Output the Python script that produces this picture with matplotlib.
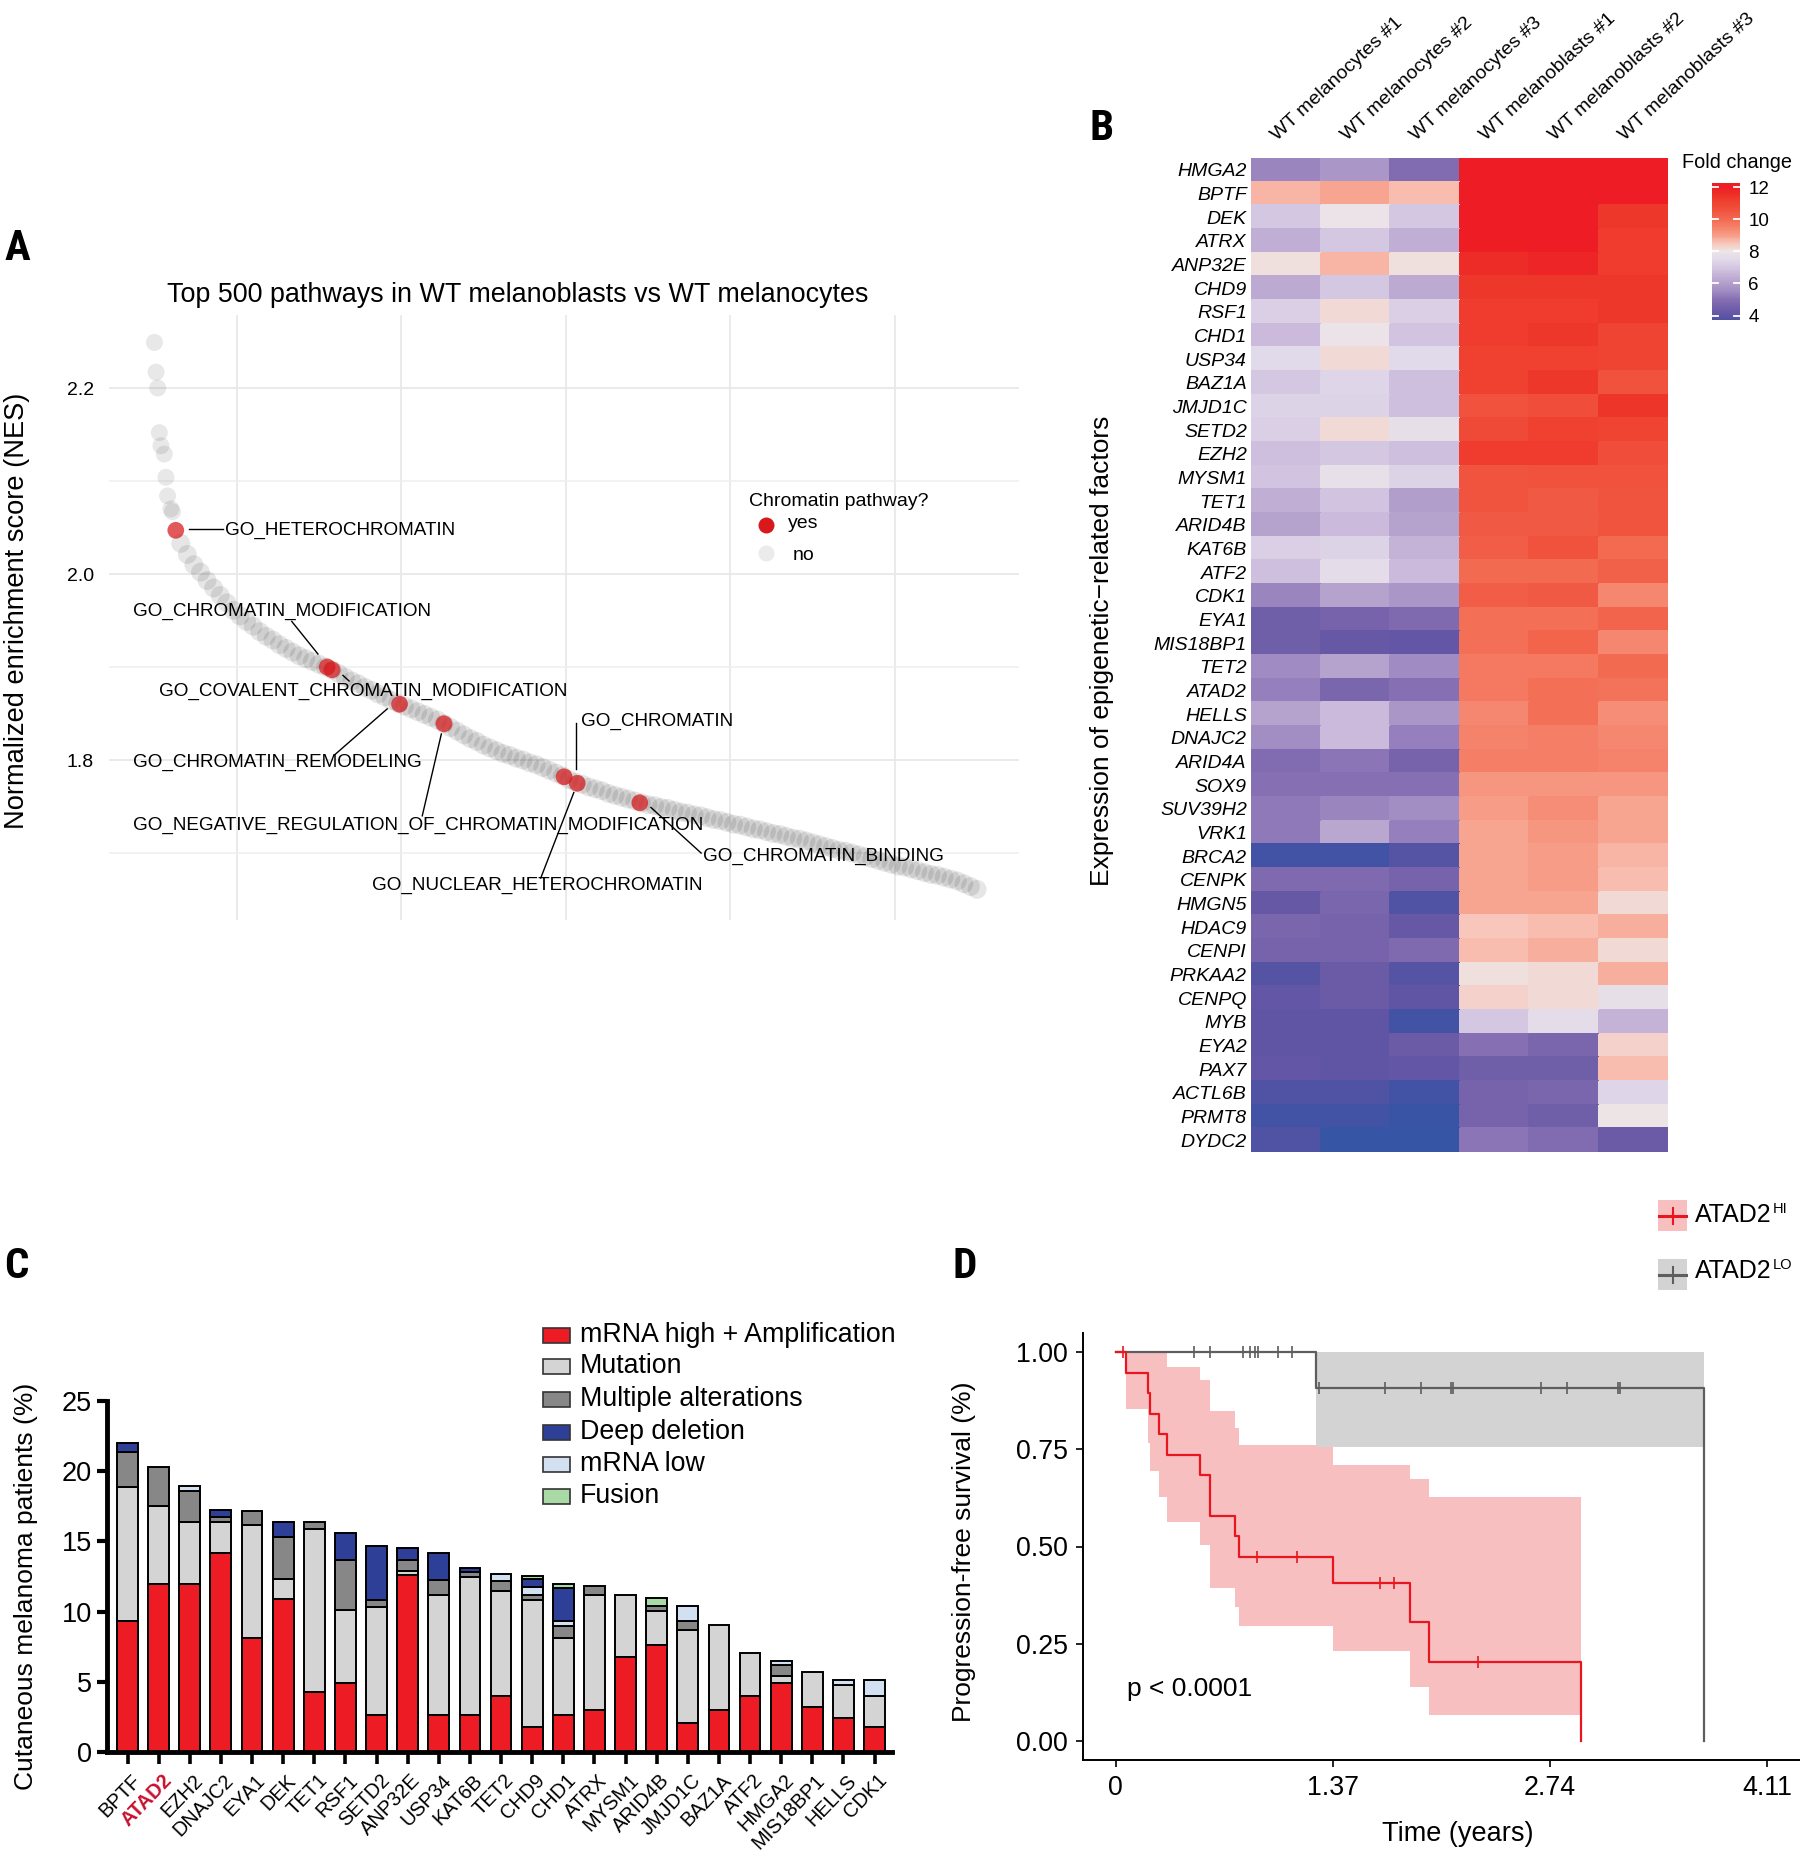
import numpy as np
import matplotlib
matplotlib.use('Agg')
import matplotlib.pyplot as plt
from matplotlib import font_manager as fm
from matplotlib.colors import LinearSegmentedColormap, Normalize
from matplotlib.patches import Rectangle
from matplotlib.lines import Line2D
from matplotlib.transforms import ScaledTranslation
import matplotlib.cm as cm

# ---------------- DATA ----------------
# Panel A: top-500 pathway NES (rank order)
top_rank = [0, 1, 2, 3, 4, 6, 7, 8, 10, 11]
top_nes = [2.249, 2.217, 2.200, 2.152, 2.138, 2.129, 2.104, 2.084, 2.070, 2.067]
band_rank = list(range(16, 501, 4))
band_nes = [2.033, 2.021, 2.010, 2.002, 1.993, 1.985, 1.977, 1.969, 1.961, 1.955,
            1.949, 1.944, 1.938, 1.933, 1.929, 1.924, 1.920, 1.916, 1.912, 1.909,
            1.906, 1.903, 1.900, 1.897, 1.893, 1.889, 1.885, 1.882, 1.878, 1.875,
            1.871, 1.868, 1.864, 1.861, 1.858, 1.855, 1.852, 1.849, 1.846, 1.843,
            1.839, 1.835, 1.831, 1.827, 1.823, 1.820, 1.816, 1.813, 1.810, 1.807,
            1.805, 1.802, 1.800, 1.797, 1.795, 1.792, 1.789, 1.786, 1.783, 1.779,
            1.776, 1.774, 1.771, 1.769, 1.767, 1.764, 1.762, 1.760, 1.758, 1.756,
            1.754, 1.752, 1.751, 1.749, 1.748, 1.746, 1.744, 1.743, 1.741, 1.740,
            1.738, 1.736, 1.735, 1.733, 1.731, 1.730, 1.728, 1.726, 1.725, 1.723,
            1.721, 1.720, 1.718, 1.716, 1.715, 1.713, 1.711, 1.709, 1.707, 1.705,
            1.703, 1.702, 1.700, 1.698, 1.696, 1.694, 1.692, 1.690, 1.688, 1.686,
            1.685, 1.683, 1.681, 1.679, 1.677, 1.676, 1.674, 1.672, 1.670, 1.667,
            1.664, 1.661]
chrom_names = ['GO_HETEROCHROMATIN', 'GO_CHROMATIN_MODIFICATION',
               'GO_COVALENT_CHROMATIN_MODIFICATION', 'GO_CHROMATIN_REMODELING',
               'GO_NEGATIVE_REGULATION_OF_CHROMATIN_MODIFICATION', 'GO_CHROMATIN',
               'GO_NUCLEAR_HETEROCHROMATIN', 'GO_CHROMATIN_BINDING']
chrom_rank = [13, 105, 108, 149, 176, 249, 257, 295]
chrom_nes = [2.047, 1.900, 1.897, 1.860, 1.839, 1.782, 1.775, 1.754]

# Panel B: heatmap
samples = ['WT melanocytes #1', 'WT melanocytes #2', 'WT melanocytes #3',
           'WT melanoblasts #1', 'WT melanoblasts #2', 'WT melanoblasts #3']
genes_b = ['HMGA2', 'BPTF', 'DEK', 'ATRX', 'ANP32E', 'CHD9', 'RSF1', 'CHD1', 'USP34',
           'BAZ1A', 'JMJD1C', 'SETD2', 'EZH2', 'MYSM1', 'TET1', 'ARID4B', 'KAT6B',
           'ATF2', 'CDK1', 'EYA1', 'MIS18BP1', 'TET2', 'ATAD2', 'HELLS', 'DNAJC2',
           'ARID4A', 'SOX9', 'SUV39H2', 'VRK1', 'BRCA2', 'CENPK', 'HMGN5', 'HDAC9',
           'CENPI', 'PRKAA2', 'CENPQ', 'MYB', 'EYA2', 'PAX7', 'ACTL6B', 'PRMT8', 'DYDC2']
fold_change = [
    [5.4, 5.8, 4.9, 12.3, 12.3, 12.3],
    [8.7, 8.9, 8.6, 12.2, 12.2, 12.2],
    [7.0, 7.9, 7.0, 12.2, 12.2, 11.3],
    [6.4, 7.0, 6.4, 12.1, 12.2, 11.2],
    [8.1, 8.7, 8.1, 11.6, 11.8, 11.2],
    [6.3, 7.0, 6.3, 11.3, 11.3, 11.3],
    [7.2, 8.2, 7.2, 11.2, 11.2, 11.3],
    [6.7, 7.9, 6.9, 11.2, 11.3, 11.0],
    [7.5, 8.2, 7.5, 11.1, 11.1, 11.0],
    [7.0, 7.4, 6.8, 11.1, 11.3, 10.6],
    [7.3, 7.3, 6.8, 10.6, 10.7, 11.4],
    [7.2, 8.2, 7.7, 10.8, 11.1, 11.0],
    [6.8, 7.0, 6.8, 11.2, 11.2, 10.7],
    [6.9, 7.8, 7.3, 10.5, 10.6, 10.6],
    [6.4, 6.9, 6.0, 10.5, 10.4, 10.5],
    [6.1, 6.7, 6.1, 10.4, 10.4, 10.5],
    [7.2, 7.3, 6.5, 10.3, 10.6, 10.0],
    [6.8, 7.6, 6.7, 10.0, 10.0, 10.2],
    [5.4, 6.1, 5.8, 10.3, 10.4, 9.4],
    [4.4, 4.6, 4.8, 9.9, 9.9, 10.1],
    [4.4, 4.2, 4.1, 9.9, 10.1, 9.4],
    [5.5, 6.1, 5.5, 9.7, 9.7, 10.0],
    [5.3, 4.7, 5.0, 9.7, 9.9, 9.8],
    [6.1, 6.7, 5.8, 9.4, 9.9, 9.3],
    [5.6, 6.7, 5.3, 9.5, 9.6, 9.4],
    [4.9, 5.1, 4.6, 9.6, 9.6, 9.5],
    [5.0, 5.0, 5.0, 9.1, 9.1, 9.1],
    [5.2, 5.4, 5.6, 9.0, 9.3, 8.9],
    [5.2, 6.2, 5.3, 8.9, 9.1, 8.9],
    [3.4, 3.4, 3.8, 8.9, 9.0, 8.7],
    [4.8, 4.8, 4.6, 8.9, 9.0, 8.6],
    [4.2, 4.7, 3.7, 8.9, 8.9, 8.2],
    [4.7, 4.6, 4.2, 8.5, 8.6, 8.8],
    [4.6, 4.6, 4.8, 8.6, 8.8, 8.2],
    [3.8, 4.3, 3.8, 8.1, 8.2, 8.8],
    [4.1, 4.3, 4.0, 8.3, 8.2, 7.7],
    [4.0, 4.0, 3.4, 7.0, 7.6, 6.5],
    [4.0, 4.0, 4.3, 5.0, 4.7, 8.3],
    [4.1, 4.0, 4.1, 4.4, 4.4, 8.6],
    [3.7, 3.7, 3.4, 4.6, 4.7, 7.4],
    [3.4, 3.4, 3.1, 4.6, 4.4, 8.0],
    [3.7, 3.0, 3.0, 5.1, 4.9, 4.3],
]
cbar_ticks = [4, 6, 8, 10, 12]

# Panel C: alteration frequencies (%)
genes_c = ['BPTF', 'ATAD2', 'EZH2', 'DNAJC2', 'EYA1', 'DEK', 'TET1', 'RSF1', 'SETD2',
           'ANP32E', 'USP34', 'KAT6B', 'TET2', 'CHD9', 'CHD1', 'ATRX', 'MYSM1', 'ARID4B',
           'JMJD1C', 'BAZ1A', 'ATF2', 'HMGA2', 'MIS18BP1', 'HELLS', 'CDK1']
mrna_high_amp = [9.3, 12.0, 12.0, 14.2, 8.1, 10.9, 4.3, 4.9, 2.6, 12.6, 2.6, 2.6, 4.0,
                 1.8, 2.6, 3.0, 6.8, 7.6, 2.1, 3.0, 4.0, 4.9, 3.2, 2.4, 1.8]
mutation = [9.6, 5.5, 4.4, 2.2, 8.1, 1.4, 11.6, 5.2, 7.7, 0.3, 8.55, 9.85, 7.45,
            9.0, 5.5, 8.2, 4.4, 2.45, 6.6, 6.05, 3.05, 0.5, 2.5, 2.4, 2.2]
multiple_alt = [2.5, 2.8, 2.2, 0.35, 1.0, 3.0, 0.5, 3.55, 0.5, 0.8, 1.1, 0.4, 0.75,
                0.35, 0.9, 0.6, 0.0, 0.35, 0.6, 0.0, 0.0, 0.8, 0.0, 0.0, 0.0]
mrna_low = [0.0, 0.0, 0.35, 0.0, 0.0, 0.0, 0.0, 0.0, 0.0, 0.0, 0.0, 0.0, 0.45,
            0.6, 0.3, 0.0, 0.0, 0.0, 1.1, 0.0, 0.0, 0.25, 0.0, 0.3, 1.15]
deep_deletion = [0.6, 0.0, 0.0, 0.5, 0.0, 1.1, 0.0, 1.95, 3.9, 0.85, 1.95, 0.25, 0.0,
                 0.55, 2.4, 0.0, 0.0, 0.0, 0.0, 0.0, 0.0, 0.0, 0.0, 0.0, 0.0]
fusion = [0.0, 0.0, 0.0, 0.0, 0.0, 0.0, 0.0, 0.0, 0.0, 0.0, 0.0, 0.0, 0.0,
          0.25, 0.3, 0.0, 0.0, 0.55, 0.0, 0.0, 0.0, 0.0, 0.0, 0.0, 0.0]

# Panel D: Kaplan-Meier
hi_time = [0, 0.064, 0.205, 0.219, 0.276, 0.325, 0.531, 0.594, 0.750, 0.778, 1.369, 1.857, 1.974, 2.936]
hi_surv = [1.0, 0.947, 0.895, 0.842, 0.789, 0.737, 0.684, 0.579, 0.526, 0.474, 0.406, 0.305, 0.203, 0.0]
hi_lower = [1.0, 0.854, 0.767, 0.694, 0.627, 0.563, 0.504, 0.394, 0.344, 0.296, 0.232, 0.137, 0.065]
hi_upper = [1.0, 1.0, 1.0, 1.0, 1.0, 0.963, 0.929, 0.849, 0.806, 0.761, 0.711, 0.675, 0.627]
hi_cens_t = [0.046, 0.891, 1.146, 1.670, 1.755, 2.282]
hi_cens_s = [1.0, 0.474, 0.474, 0.406, 0.406, 0.203]
lo_time = [0, 1.263, 3.711]
lo_surv = [1.0, 0.909, 0.0]
lo_lower = [1.0, 0.756]
lo_upper = [1.0, 1.0]
lo_cens_t = [0.495, 0.594, 0.803, 0.845, 0.877, 0.895, 1.026, 1.114,
             1.284, 1.698, 1.928, 2.115, 2.129, 2.681, 2.847, 3.166, 3.180]
lo_cens_s = [1.0] * 8 + [0.909] * 9
time_ticks = [0, 1.37, 2.74, 4.11]

# ---------------- STYLE ----------------
W, H = 1800, 1853
names = {f.name for f in fm.fontManager.ttflist}
def first_font(cands):
    for c in cands:
        if c in names:
            return c
    return 'DejaVu Sans'
REG = first_font(['Liberation Sans', 'Arial', 'DejaVu Sans'])
NAR = first_font(['Liberation Sans Narrow', 'Roboto Condensed', 'DejaVu Sans'])
plt.rcParams['font.family'] = [REG, 'DejaVu Sans']

fig = plt.figure(figsize=(W / 100, H / 100), dpi=100)

def fx(x):
    return x / W
def fy(y):
    return 1 - y / H
def axes_px(l, t, r, b):
    return fig.add_axes([l / W, 1 - b / H, (r - l) / W, (b - t) / H])

# panel letters
for let, (x, y) in {'A': (17, 249), 'B': (1102, 128), 'C': (16, 1267), 'D': (965, 1267)}.items():
    fig.text(fx(x), fy(y), let, family=NAR, fontweight='bold', fontsize=31,
             ha='center', va='center')

# ---------------- PANEL A ----------------
axA = axes_px(109, 315, 1019, 920)
axA.set_xlim(-27.6, 525.5)
axA.set_ylim(1.628, 2.2785)
for s in axA.spines.values():
    s.set_visible(False)
axA.set_yticks([1.8, 2.0, 2.2])
axA.set_yticklabels(['1.8', '2.0', '2.2'])
axA.set_yticks([1.7, 1.9, 2.1], minor=True)
axA.set_xticks([50, 150, 250, 350, 450])
axA.set_xticklabels([])
axA.grid(True, which='major', color='#E8E8E8', lw=1.3)
axA.grid(True, which='minor', axis='y', color='#EFEFEF', lw=1.1)
axA.set_axisbelow(True)
axA.tick_params(which='both', length=0, labelsize=14, pad=11)
axA.scatter(top_rank, top_nes, s=150, c='#0A0A0A', alpha=0.09, edgecolors='none', zorder=2)
axA.scatter(band_rank, band_nes, s=185, c='#0A0A0A', alpha=0.1, edgecolors='none', zorder=2)
axA.scatter(chrom_rank, chrom_nes, s=145, c='#D7191C', alpha=0.72, edgecolors='none', zorder=3)

labelsA = [  # (text pos rank, nes), (line from), (line to)
    ((43.0, 2.047), (21.3, 2.048), (41.5, 2.048)),
    ((-12.8, 1.960), (83.5, 1.949), (99.4, 1.914)),
    ((3.0, 1.874), (114.6, 1.891), (118.3, 1.885)),
    ((-12.8, 1.797), (109.8, 1.806), (141.5, 1.855)),
    ((-12.8, 1.730), (162.8, 1.740), (174.4, 1.828)),
    ((259.0, 1.841), (256.0, 1.840), (256.0, 1.790)),
    ((132.0, 1.665), (234.8, 1.673), (254.9, 1.765)),
    ((333.5, 1.696), (301.8, 1.749), (332.3, 1.700)),
]
for name, (tp, l0, l1) in zip(chrom_names, labelsA):
    axA.text(tp[0], tp[1], name, fontsize=13.6, ha='left', va='center', zorder=4)
    axA.plot([l0[0], l1[0]], [l0[1], l1[1]], color='black', lw=1.0, zorder=4)

fig.text(fx(518), fy(295), 'Top 500 pathways in WT melanoblasts vs WT melanocytes',
         fontsize=19.4, ha='center', va='center')
fig.text(fx(17), fy(611), 'Normalized enrichment score (NES)', rotation=90,
         fontsize=19.6, ha='center', va='center')
fig.text(fx(749), fy(501), 'Chromatin pathway?', fontsize=14, ha='left', va='center')
fig.add_artist(Line2D([fx(766)], [fy(525)], marker='o', ms=11.5, color='#D7191C', mec='none'))
fig.text(fx(788), fy(523), 'yes', fontsize=14, ha='left', va='center')
fig.add_artist(Line2D([fx(766)], [fy(553)], marker='o', ms=11.5, color='#EBEBEB', mec='none'))
fig.text(fx(793), fy(556), 'no', fontsize=14, ha='left', va='center')

# ---------------- PANEL B ----------------
anchors = [(3.0, '#3755A5'), (3.5, '#4651A3'), (4.0, '#6054A5'), (4.5, '#7360A9'),
           (5.0, '#8670B3'), (5.5, '#A08BC2'), (6.0, '#B39FCB'), (6.5, '#C5B2D7'),
           (7.0, '#D5C8E2'), (7.5, '#E1DAEA'), (8.0, '#EDE5E6'), (8.5, '#F8C6BA'),
           (9.0, '#F79C86'), (9.5, '#F5836B'), (10.0, '#F26A50'), (10.5, '#F05540'),
           (11.0, '#EF4432'), (11.5, '#EE3128'), (12.0, '#EE1D24'), (12.4, '#EE1C24')]
vmin, vmax = anchors[0][0], anchors[-1][0]
cmap = LinearSegmentedColormap.from_list(
    'fc', [((v - vmin) / (vmax - vmin), c) for v, c in anchors])
norm = Normalize(vmin=vmin, vmax=vmax)

axB = axes_px(1251, 158, 1668, 1152)
vals = np.array(fold_change)
axB.pcolormesh(np.arange(len(samples) + 1), np.arange(len(genes_b) + 1), vals,
               cmap=cmap, norm=norm, edgecolors='face', linewidth=0.3)
axB.set_xlim(0, len(samples))
axB.set_ylim(len(genes_b), 0)
for s in axB.spines.values():
    s.set_visible(False)
axB.set_yticks(np.arange(len(genes_b)) + 0.5)
axB.set_yticklabels(genes_b, fontstyle='italic', fontsize=14)
axB.set_xticks([])
axB.tick_params(axis='y', length=0, pad=3)
for j, smp in enumerate(samples):
    axB.text(j + 0.38, -0.72, smp, rotation=43, rotation_mode='anchor',
             ha='left', va='baseline', fontsize=14)
fig.text(fx(1102), fy(651), 'Expression of epigenetic\u2212related factors', rotation=90,
         fontsize=19, ha='center', va='center')

cax = axes_px(1712, 183, 1740, 320)
sm = cm.ScalarMappable(norm=norm, cmap=cmap)
cb = fig.colorbar(sm, cax=cax, boundaries=np.linspace(3.72, 12.25, 300), ticks=cbar_ticks)
cb.outline.set_visible(False)
cax.tick_params(length=0, labelsize=13.5, pad=6)
for t in cbar_ticks:
    cax.plot([0, 0.22], [t, t], color='white', lw=1.3)
    cax.plot([0.78, 1.0], [t, t], color='white', lw=1.3)
fig.text(fx(1682), fy(163), 'Fold change', fontsize=14.3, ha='left', va='center')

# ---------------- PANEL C ----------------
axC = axes_px(107, 1401, 892, 1752)
xs = np.arange(len(genes_c))
series = [(mrna_high_amp, '#ED1C24', 'mRNA high + Amplification'),
          (mutation, '#D4D4D4', 'Mutation'),
          (multiple_alt, '#878787', 'Multiple alterations'),
          (mrna_low, '#D2E0F2', 'mRNA low'),
          (deep_deletion, '#2E3F98', 'Deep deletion'),
          (fusion, '#A9D9A4', 'Fusion')]
bottom = np.zeros(len(genes_c))
for v, col, lab in series:
    v = np.array(v)
    m = v > 0
    axC.bar(xs[m], v[m], width=0.67, bottom=bottom[m], color=col, edgecolor='black',
            linewidth=1.4, zorder=2)
    bottom = bottom + v
axC.set_xlim(-0.66, 24.56)
axC.set_ylim(0, 25)
axC.spines['top'].set_visible(False)
axC.spines['right'].set_visible(False)
axC.spines['left'].set_linewidth(3.5)
axC.spines['bottom'].set_linewidth(3.5)
axC.set_yticks([0, 5, 10, 15, 20, 25])
axC.tick_params(axis='y', length=7, width=3, labelsize=19.5, pad=4)
axC.set_xticks(xs)
axC.set_xticklabels(genes_c, rotation=46, ha='right', va='top', rotation_mode='anchor',
                    fontsize=14.4)
axC.tick_params(axis='x', length=8.5, width=2.6, pad=5)
shift = ScaledTranslation(3 / 100, 0, fig.dpi_scale_trans)
for lab in axC.get_xticklabels():
    lab.set_transform(lab.get_transform() + shift)
    if lab.get_text() == 'ATAD2':
        lab.set_color('#C8102E')
        lab.set_fontweight('bold')
fig.text(fx(26), fy(1586), 'Cutaneous melanoma patients (%)', rotation=90,
         fontsize=19, ha='center', va='center')
legend_order = [0, 1, 2, 4, 3, 5]
rows_y = [1335, 1366, 1399, 1432, 1464, 1496]
for yy, k in zip(rows_y, legend_order):
    _, col, lab = series[k]
    fig.add_artist(Rectangle((fx(543), fy(yy + 7.5)), 27 / W, 15 / H, facecolor=col,
                             edgecolor='#333333', lw=1.2))
    fig.text(fx(580), fy(yy), lab, fontsize=19.3, ha='left', va='center')

# ---------------- PANEL D ----------------
axD = axes_px(1083, 1333, 1800, 1760)
axD.set_xlim(-0.2055, 4.3155)
axD.set_ylim(-0.05, 1.05)
axD.spines['top'].set_visible(False)
axD.spines['right'].set_visible(False)
axD.spines['left'].set_linewidth(1.4)
axD.spines['bottom'].set_linewidth(1.4)
axD.set_xticks(time_ticks)
axD.set_xticklabels(['0', '1.37', '2.74', '4.11'])
axD.set_yticks([0, 0.25, 0.5, 0.75, 1.0])
axD.set_yticklabels(['0.00', '0.25', '0.50', '0.75', '1.00'])
axD.tick_params(length=5, width=1.2, labelsize=19.3, pad=6)

red, redfill = '#E8161E', '#F8BFC0'
gray, grayfill = '#5E5E5E', '#D3D3D3'
axD.fill_between(hi_time, hi_lower + [hi_lower[-1]], hi_upper + [hi_upper[-1]],
                 step='post', color=redfill, lw=0, zorder=1)
axD.fill_between(lo_time, lo_lower + [lo_lower[-1]], lo_upper + [lo_upper[-1]],
                 step='post', color=grayfill, lw=0, zorder=1)
axD.step(lo_time, lo_surv, where='post', color=gray, lw=1.6, zorder=3)
axD.step(hi_time, hi_surv, where='post', color=red, lw=1.6, zorder=4)
axD.plot(lo_cens_t, lo_cens_s, ls='none', marker='|', ms=8, mew=1.2, color=gray, zorder=3)
axD.plot(hi_cens_t, hi_cens_s, ls='none', marker='|', ms=8, mew=1.2, color=red, zorder=4)
axD.text(0.07, 0.134, 'p < 0.0001', fontsize=19, ha='left', va='center')
fig.text(fx(964), fy(1552), 'Progression-free survival (%)', rotation=90,
         fontsize=19, ha='center', va='center')
fig.text(fx(1458), fy(1834), 'Time (years)', fontsize=19.5, ha='center', va='center')

fig.canvas.draw()
for (y0, y1, ty, fc, lc, sup) in [(1200, 1231, 1215, redfill, red, 'HI'),
                                   (1259, 1290, 1271, grayfill, gray, 'LO')]:
    fig.add_artist(Rectangle((fx(1658), fy(y1)), 29 / W, (y1 - y0) / H,
                             facecolor=fc, edgecolor='none'))
    ym = (y0 + y1) / 2
    fig.add_artist(Line2D([fx(1659), fx(1686)], [fy(ym), fy(ym)], color=lc, lw=2.2))
    fig.add_artist(Line2D([fx(1672.5), fx(1672.5)], [fy(ym - 8), fy(ym + 8)], color=lc, lw=1.5))
    t = fig.text(fx(1695), fy(ty), 'ATAD2', fontsize=18, ha='left', va='center')
    bb = t.get_window_extent(renderer=fig.canvas.get_renderer())
    fig.text((bb.x1 + 1) / W, (bb.y1 + 1) / H, sup, fontsize=10.5, ha='left', va='top')

fig.savefig('out.png', dpi=100)
